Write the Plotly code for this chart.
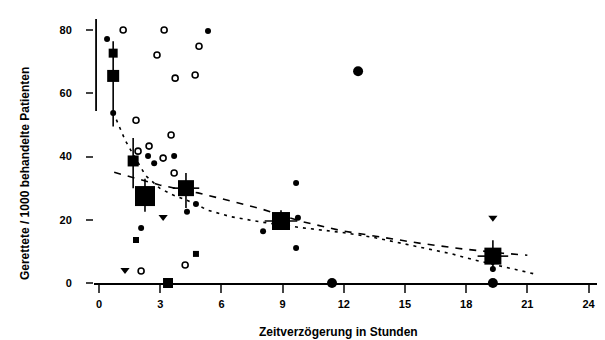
import plotly.graph_objects as go

# ---- data ----
x_ticks = [0, 3, 6, 9, 12, 15, 18, 21, 24]
y_ticks = [0, 20, 40, 60, 80]

open_h = [1.18, 3.19, 4.90, 2.84, 3.73, 4.71, 1.81, 3.53, 1.91, 2.45, 3.14, 3.68, 4.22, 2.06]
open_v = [80.0, 80.0, 74.9, 72.1, 64.8, 65.8, 51.5, 46.8, 41.7, 43.3, 39.5, 34.8, 5.7, 3.8]

filled_h = [0.39, 5.34, 0.69, 2.40, 2.70, 3.68, 4.75, 4.31, 2.06, 9.66, 9.75, 8.04, 9.66, 19.31]
filled_v = [77.2, 79.7, 53.8, 40.2, 37.9, 40.2, 25.0, 22.5, 17.4, 31.6, 20.6, 16.4, 11.1, 4.4]

tri_h = [3.14, 1.27, 19.31]
tri_v = [20.9, 4.1, 20.6]

sq_h = [1.81, 4.75]
sq_v = [13.6, 9.2]

big_sq_h = [3.38]
big_sq_v = [0.0]

big_dot_h = [11.42, 12.70, 19.31]
big_dot_v = [0.0, 67.0, 0.0]

mean_h = [0.69, 0.69, 1.67, 2.25, 4.26, 8.92, 19.31]
mean_v = [72.7, 65.5, 38.6, 27.5, 30.0, 19.6, 8.5]
mean_n = [9, 12, 11, 20, 16, 18, 17]
mean_err_plus = [0, 11.0, 7.3, 5.5, 4.8, 3.4, 5.0]
mean_err_minus = [0, 16.0, 8.6, 5.0, 6.3, 0, 5.0]
mean_err_x = [0, 0, 0, 0, 0.65, 0.8, 0.75]

fit1_h = [0.69, 1.03, 1.29, 1.58, 2.28, 2.97, 3.56, 4.36, 5.35, 6.44, 7.92, 9.9, 11.9, 13.4, 15.3, 17.3, 18.4, 20.5, 21.4]
fit1_v = [54, 49, 45, 41.7, 34, 30, 28, 26, 23, 21, 19.3, 17.5, 16, 14.5, 12, 9.2, 7.3, 4.1, 2.8]

fit2_h = [0.74, 2.97, 4.85, 5.84, 6.73, 7.92, 9.9, 11.9, 13.9, 15.8, 17.8, 19.8, 21.0]
fit2_v = [35, 31, 28.5, 27, 25.5, 23.5, 19.5, 16.5, 14.5, 12.5, 10.8, 9.4, 8.8]

yaxis_segment = [54.4, 83.5]

x_title = "Zeitverzögerung in Stunden"
y_title = "Gerettete / 1000 behandelte Patienten"

FONT = "Liberation Sans"
fig = go.Figure()

fig.add_trace(go.Scatter(x=fit1_h, y=fit1_v, mode="lines",
                         line=dict(color="black", width=1.6, dash="3px,5px")))
fig.add_trace(go.Scatter(x=fit2_h, y=fit2_v, mode="lines",
                         line=dict(color="black", width=1.6, dash="7px,7px")))

fig.add_trace(go.Scatter(x=open_h, y=open_v, mode="markers",
                         marker=dict(symbol="circle-open", size=6, color="black", opacity=1,
                                     line=dict(width=1.6, color="black"))))
fig.add_trace(go.Scatter(x=filled_h, y=filled_v, mode="markers",
                         marker=dict(symbol="circle", size=6, color="black", opacity=1)))
fig.add_trace(go.Scatter(x=tri_h, y=tri_v, mode="markers",
                         marker=dict(symbol="triangle-down", size=8, color="black", opacity=1)))
fig.add_trace(go.Scatter(x=sq_h, y=sq_v, mode="markers",
                         marker=dict(symbol="square", size=6, color="black", opacity=1)))
fig.add_trace(go.Scatter(x=big_sq_h, y=big_sq_v, mode="markers", cliponaxis=False,
                         marker=dict(symbol="square", size=10, color="black", opacity=1)))
fig.add_trace(go.Scatter(x=big_dot_h, y=big_dot_v, mode="markers", cliponaxis=False,
                         marker=dict(symbol="circle", size=10, color="black", opacity=1)))

fig.add_trace(go.Scatter(
    x=mean_h, y=mean_v, mode="markers",
    marker=dict(symbol="square", size=mean_n, color="black", opacity=1,
                line=dict(width=0)),
    error_y=dict(type="data", symmetric=False, array=mean_err_plus,
                 arrayminus=mean_err_minus, color="black", thickness=1.6, width=0),
    error_x=dict(type="data", array=mean_err_x, color="black", thickness=1.6, width=0),
))

fig.add_shape(type="line", xref="x domain", yref="y", x0=0.004, x1=0.004,
              y0=yaxis_segment[0], y1=yaxis_segment[1],
              line=dict(color="black", width=1.8))

fig.update_layout(
    width=605, height=340,
    margin=dict(l=86, r=0, t=5, b=65),
    paper_bgcolor="white", plot_bgcolor="white",
    showlegend=False,
    font=dict(family=FONT, size=11, color="black", weight="bold"),
    xaxis=dict(range=[-0.25, 25.2], tickvals=x_ticks, ticks="outside", ticklen=8,
               tickwidth=1.5, showline=True, linecolor="black", linewidth=1.8,
               showgrid=False, zeroline=False, ticklabelstandoff=2,
               tickfont=dict(family=FONT, size=11, weight="bold", color="black")),
    yaxis=dict(range=[0, 85.4], tickvals=y_ticks, ticks="outside", ticklen=7,
               tickwidth=1.5, showline=False, showgrid=False, zeroline=False,
               ticklabelstandoff=12,
               tickfont=dict(family=FONT, size=11, weight="bold", color="black")),
    annotations=[
        dict(text=x_title, xref="paper", yref="paper", x=0.472, y=-0.18,
             xanchor="center", yanchor="middle", showarrow=False,
             font=dict(family=FONT, size=12, weight="bold", color="black")),
        dict(text=y_title, xref="paper", yref="paper", x=-0.133, y=0.407,
             xanchor="center", yanchor="middle", showarrow=False, textangle=-90,
             font=dict(family=FONT, size=12, weight="bold", color="black")),
    ],
)

fig.write_html("out.html")
